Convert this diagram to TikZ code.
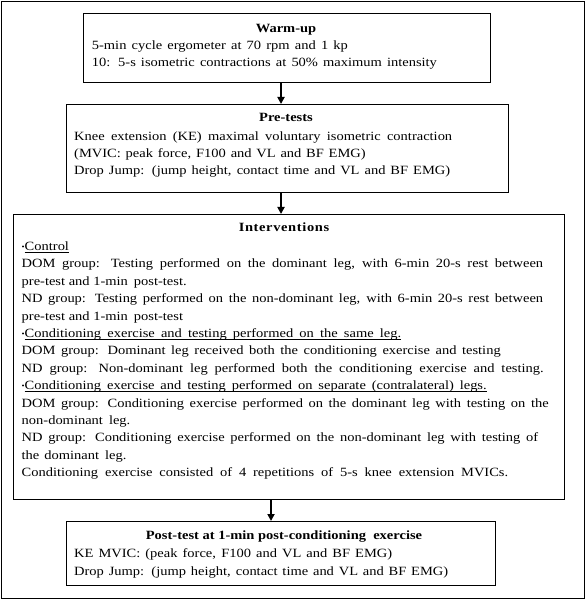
\documentclass[tikz,border=0pt]{standalone}
\usepackage{fontspec}
\usepackage{graphicx}
\setmainfont{Liberation Serif}[FakeStretch=1.15]
\usetikzlibrary{arrows.meta}
\newcommand\bul{\raisebox{0.25ex}{\scalebox{0.6}{•}}}
\newcommand\fl[2]{\makebox[#1pt][s]{#2}}
\newcommand\hdr[2]{\setbox2\hbox{\bul}\setbox0\hbox{\makebox[\dimexpr #1pt-\wd2\relax][s]{#2}}\copy2\rlap{\rule[-1.8pt]{\wd0}{0.6pt}}\box0}
\begin{document}
\begin{tikzpicture}[x=1pt,y=-1pt,
  box/.style={draw=black, line width=1pt, inner sep=0pt, anchor=north west},
  body/.style={anchor=base west, inner sep=0pt, align=left, font=\fontsize{12.6}{17.4}\selectfont},
  title/.style={anchor=base, inner sep=0pt, font=\fontsize{12.6}{17.4}\selectfont\bfseries},
  flow/.style={line width=1.8pt, -{Triangle[length=7pt,width=7pt]}}]
\useasboundingbox (0,0) rectangle (586,601);
\draw[line width=1.6pt] (1.5,1.5) rectangle (584.5,598.5);
% boxes
\node[box, minimum width=407pt, minimum height=69pt] (warm) at (83,13) {};
\node[box, minimum width=442pt, minimum height=88pt] (pre) at (66,104) {};
\node[box, minimum width=551pt, minimum height=285pt] (int) at (13,214) {};
\node[box, minimum width=429pt, minimum height=64pt] (post) at (66,521) {};
% titles
\node[title] (warmT) at ([xshift=-1pt,yshift=-20pt]warm.north) {Warm-up};
\node[title] (preT) at ([xshift=-1.5pt,yshift=-18pt]pre.north) {Pre-tests};
\node[title] (intT) at ([xshift=-5pt,yshift=-18pt]int.north) {\addfontfeature{LetterSpace=5}Interventions};
\node[title] (postT) at ([xshift=3pt,yshift=-18.5pt]post.north) {Post-test at 1-min post-conditioning \ exercise};
% bodies (base anchor = last line)
\node[body] (warmB) at ([xshift=8.7pt,yshift=-54pt]warm.north west)
 {\fl{256}{5-min cycle ergometer at 70 rpm and 1 kp}\\
  \fl{345}{10: 5-s isometric contractions at 50\% maximum intensity}};
\node[body] (preB) at ([xshift=8pt,yshift=-71pt]pre.north west)
 {\fl{378}{Knee extension (KE) maximal voluntary isometric contraction}\\
  \fl{291.5}{(MVIC: peak force, F100 and VL and BF EMG)}\\
  \fl{376}{Drop Jump: (jump height, contact time and VL and BF EMG)}};
\node[body] (intB) at ([xshift=8.5pt,yshift=-262.7pt]int.north west)
 {\bul\underline{Control}\\
  \fl{521.5}{DOM group: Testing performed on the dominant leg, with 6-min 20-s rest between}\\
  pre-test and 1-min\hspace{6pt}post-test.\\
  \fl{521.5}{ND group: Testing performed on the non-dominant leg, with 6-min 20-s rest between}\\
  pre-test and 1-min\hspace{6pt}post-test\\
  \hdr{379.5}{Conditioning exercise and testing performed on the same leg.}\\
  \fl{479}{DOM group: Dominant leg received both the conditioning exercise and testing}\\
  \fl{522}{ND group: Non-dominant leg performed both the conditioning exercise and testing.}\\
  \hdr{465}{Conditioning exercise and testing performed on separate (contralateral) legs.}\\
  \fl{527}{DOM group: Conditioning exercise performed on the dominant leg with testing on the}\\
  non-dominant\hspace{6pt}leg.\\
  \fl{516.5}{ND group: Conditioning exercise performed on the non-dominant leg with testing of}\\
  the\hspace{5pt}dominant\hspace{6pt}leg.\\
  \fl{486.5}{Conditioning exercise consisted of 4 repetitions of 5-s knee extension MVICs.}};
\node[body] (postB) at ([xshift=8pt,yshift=-54pt]post.north west)
 {\fl{318}{KE MVIC: (peak force, F100 and VL and BF EMG)}\\
  \fl{374}{Drop Jump: (jump height, contact time and VL and BF EMG)}};
% arrows
\coordinate (ax1) at (281,0);
\coordinate (ax2) at (271,0);
\draw[flow] (warm.south -| ax1) -- (pre.north -| ax1);
\draw[flow] (pre.south -| ax1) -- (int.north -| ax1);
\draw[flow] (int.south -| ax2) -- (post.north -| ax2);
\end{tikzpicture}
\end{document}
